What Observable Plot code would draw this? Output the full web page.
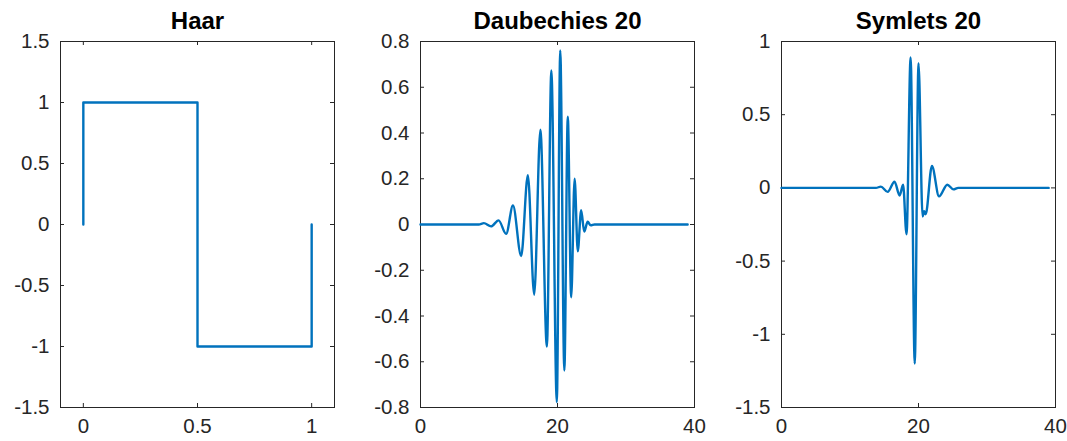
<!DOCTYPE html>
<html><head><meta charset="utf-8">
<script src="https://cdn.jsdelivr.net/npm/d3@7"></script>
<script src="https://cdn.jsdelivr.net/npm/@observablehq/plot@0.6"></script>
<style>
body{margin:0;background:#fff;}
#wrap{position:relative;width:1067px;height:441px;overflow:hidden;font-family:"Liberation Sans",Helvetica,Arial,sans-serif;}
#wrap svg{position:absolute;top:0;}
</style></head><body><div id="wrap"></div>
<script>
// ---- data ----
const titles = ["Haar", "Daubechies 20", "Symlets 20"];

const haarX = [0, 0, 0.5, 0.5, 1, 1];
const haarY = [0, 1, 1, -1, -1, 0];

const db20X = [0, 8.5, 9.25, 10.3, 11.4, 12.5, 13.5, 14.7, 15.67, 16.6, 17.5, 18.45, 19.1, 19.9, 20.4, 21.0, 21.5, 22.0, 22.5, 22.96, 23.45, 23.9, 24.4, 24.85, 25.4, 39];
const db20Y = [0, 0, 0.006, -0.008, 0.018, -0.041, 0.083, -0.138, 0.216, -0.307, 0.414, -0.534, 0.673, -0.776, 0.761, -0.638, 0.471, -0.318, 0.2, -0.117, 0.062, -0.031, 0.012, -0.004, 0, 0];

const sym20X = [0, 13.8, 14.5, 15.5, 16.5, 17.25, 17.75, 18.25, 18.85, 19.45, 20.0, 20.6, 20.82, 21.05, 21.96, 23.0, 24.2, 25.1, 25.8, 39];
const sym20Y = [0, 0, 0.009, -0.027, 0.042, -0.052, 0.022, -0.317, 0.891, -1.2, 0.852, -0.195, -0.16, -0.18, 0.15, -0.058, 0.022, -0.01, 0, 0];

const haarXTicks = [0, 0.5, 1];
const haarXLabels = ["0", "0.5", "1"];
const haarYTicks = [-1.5, -1, -0.5, 0, 0.5, 1, 1.5];
const haarYLabels = ["-1.5", "-1", "-0.5", "0", "0.5", "1", "1.5"];

const db20XTicks = [0, 20, 40];
const db20XLabels = ["0", "20", "40"];
const db20YTicks = [-0.8, -0.6, -0.4, -0.2, 0, 0.2, 0.4, 0.6, 0.8];
const db20YLabels = ["-0.8", "-0.6", "-0.4", "-0.2", "0", "0.2", "0.4", "0.6", "0.8"];

const sym20XTicks = [0, 20, 40];
const sym20XLabels = ["0", "20", "40"];
const sym20YTicks = [-1.5, -1, -0.5, 0, 0.5, 1];
const sym20YLabels = ["-1.5", "-1", "-0.5", "0", "0.5", "1"];

// ---- layout ----
const ML = 60, MR = 14, MT = 41, MB = 34, FW = 274, FH = 366;
const lefts = [0, 360, 721];
const axisColor = "#262626";
const lineColor = "#0072BD";

const panels = [
  {title: titles[0], xs: haarX, ys: haarY, xd: [-0.1, 1.1], yd: [-1.5, 1.5], xt: haarXTicks, xl: haarXLabels, yt: haarYTicks, yl: haarYLabels, curve: "linear"},
  {title: titles[1], xs: db20X, ys: db20Y, xd: [0, 40], yd: [-0.8, 0.8], xt: db20XTicks, xl: db20XLabels, yt: db20YTicks, yl: db20YLabels, curve: "monotone-x"},
  {title: titles[2], xs: sym20X, ys: sym20Y, xd: [0, 40], yd: [-1.5, 1], xt: sym20XTicks, xl: sym20XLabels, yt: sym20YTicks, yl: sym20YLabels, curve: "monotone-x"}
];

const wrap = document.getElementById("wrap");
panels.forEach((p, i) => {
  const data = p.xs.map((x, k) => ({x, y: p.ys[k]}));
  const svg = Plot.plot({
    width: ML + FW + MR,
    height: 441,
    marginLeft: ML, marginRight: MR, marginTop: MT, marginBottom: MB,
    style: {fontFamily: '"Liberation Sans", Helvetica, Arial, sans-serif', color: axisColor, background: "transparent", overflow: "visible"},
    x: {domain: p.xd},
    y: {domain: p.yd},
    marks: [
      Plot.frame({stroke: axisColor, strokeWidth: 1}),
      Plot.tickY(p.yt, {y: d => d, stroke: axisColor, insetRight: FW - 4}),
      Plot.tickY(p.yt, {y: d => d, stroke: axisColor, insetLeft: FW - 4}),
      Plot.tickX(p.xt, {x: d => d, stroke: axisColor, insetTop: FH - 4}),
      Plot.tickX(p.xt, {x: d => d, stroke: axisColor, insetBottom: FH - 4}),
      Plot.axisY({ticks: p.yt, tickFormat: d => p.yl[p.yt.indexOf(d)], tickSize: 0, tickPadding: 11, fontSize: 20.5, label: null}),
      Plot.axisX({ticks: p.xt, tickFormat: d => p.xl[p.xt.indexOf(d)], tickSize: 0, tickPadding: 11, fontSize: 20.5, label: null}),
      Plot.line(data, {x: "x", y: "y", stroke: lineColor, strokeWidth: 2.4, curve: p.curve}),
      Plot.text([p.title], {text: d => d, frameAnchor: "top", lineAnchor: "bottom", dy: -13, fontSize: 24, fontWeight: "bold", fill: "#000"})
    ]
  });
  svg.style.left = lefts[i] + "px";
  wrap.appendChild(svg);
});
</script>
</body></html>
